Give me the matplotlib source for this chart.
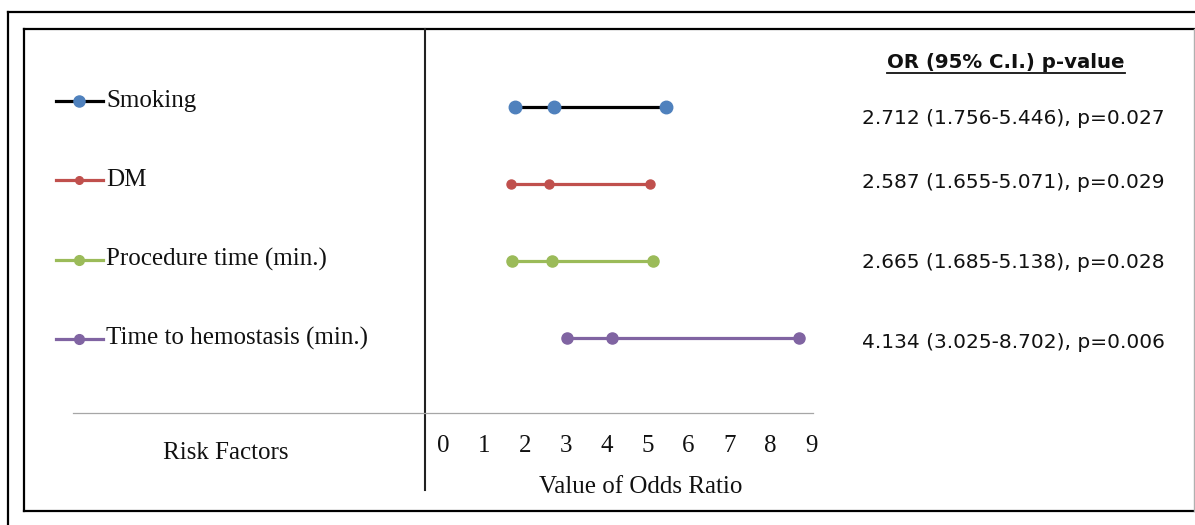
import matplotlib
matplotlib.use('Agg')
import matplotlib.pyplot as plt
from matplotlib.lines import Line2D
import numpy as np

# data
factors = ['Smoking', 'DM', 'Procedure time (min.)', 'Time to hemostasis (min.)']
odds = [2.712, 2.587, 2.665, 4.134]
ci_low = [1.756, 1.655, 1.685, 3.025]
ci_high = [5.446, 5.071, 5.138, 8.702]
p_vals = [0.027, 0.029, 0.028, 0.006]
xticks = list(range(0, 10))

line_colors = ['#000000', '#C0504D', '#9BBB59', '#8064A2']
marker_colors = ['#4F81BD', '#C0504D', '#9BBB59', '#8064A2']
marker_sizes = [9, 6.5, 8, 8]

W, H = 1195, 525
fig = plt.figure(figsize=(W / 100, H / 100), dpi=100)
fig.patch.set_facecolor('white')

def fx(x):
    return x / W

def fy(y):
    return 1 - y / H

def hline(x0, x1, y, **kw):
    fig.add_artist(Line2D([fx(x0), fx(x1)], [fy(y), fy(y)], transform=fig.transFigure, **kw))

def vline(x, y0, y1, **kw):
    fig.add_artist(Line2D([fx(x), fx(x)], [fy(y0), fy(y1)], transform=fig.transFigure, **kw))

# frames
hline(8, W, 12, color='black', lw=1.6)
vline(8, 12, H, color='black', lw=1.6)
hline(24, W, 29, color='black', lw=1.6)
hline(24, W, 511, color='black', lw=1.6)
vline(24, 29, 511, color='black', lw=1.6)
vline(1194, 29, 511, color='#b0b0b0', lw=1)
vline(425, 29, 490, color='#222222', lw=1.5)
hline(73, 813, 413, color='#a6a6a6', lw=0.9)

# plotting axes: x 0..9 -> px 443..811, rows at 107 + 77*i
x0_px, x9_px = 443, 811
top_px, bot_px = 29, 413
ax = fig.add_axes([fx(x0_px), fy(bot_px), (x9_px - x0_px) / W, (bot_px - top_px) / H])
ax.set_xlim(0, 9)
ax.set_ylim((bot_px - 107) / 77, (top_px - 107) / 77)
ax.axis('off')

for i in range(len(factors)):
    xs = [ci_low[i], odds[i], ci_high[i]]
    ax.plot(xs, [i] * 3, color=line_colors[i], lw=2.3, marker='o',
            ms=marker_sizes[i], mfc=marker_colors[i], mec=marker_colors[i],
            clip_on=False, solid_capstyle='butt')

serif = 'Liberation Serif'
for t in xticks:
    ax.text(t, (bot_px - 107 + 33) / 77, str(t), ha='center', va='center',
            fontsize=18, family=serif, color='#111111')

fig.text(fx(641), fy(487), 'Value of Odds Ratio', ha='center', va='center',
         fontsize=18, family=serif, color='#111111')
fig.text(fx(226), fy(453), 'Risk Factors', ha='center', va='center',
         fontsize=18, family=serif, color='#111111')

# legend
for i, name in enumerate(factors):
    ly = 101 + 79.3 * i
    fig.add_artist(Line2D([fx(56), fx(103)], [fy(ly), fy(ly)], transform=fig.transFigure,
                          color=line_colors[i], lw=2.3))
    fig.add_artist(Line2D([fx(79)], [fy(ly)], transform=fig.transFigure, marker='o',
                          ms=marker_sizes[i] - 1, mfc=marker_colors[i], mec=marker_colors[i]))
    fig.text(fx(106), fy(ly), name, ha='left', va='center', fontsize=18,
             family=serif, color='#111111')

# OR table
text_y = [119, 183, 263, 342]
for i in range(len(factors)):
    s = f'{odds[i]:.3f} ({ci_low[i]:.3f}-{ci_high[i]:.3f}), p={p_vals[i]:.3f}'
    fig.text(fx(862), fy(text_y[i]), s, ha='left', va='center', fontsize=14.5,
             family='DejaVu Sans', color='#111111')

hdr = fig.text(fx(1006), fy(62), 'OR (95% C.I.) p-value', ha='center', va='center',
               fontsize=14.2, fontweight='bold', family='DejaVu Sans', color='#111111')
fig.canvas.draw()
bb = hdr.get_window_extent()
uy = bb.y0 - 1
fig.add_artist(Line2D([bb.x0 / W, bb.x1 / W], [uy / H, uy / H], transform=fig.transFigure,
                      color='#111111', lw=1.3))

fig.savefig('out.png', dpi=100)
